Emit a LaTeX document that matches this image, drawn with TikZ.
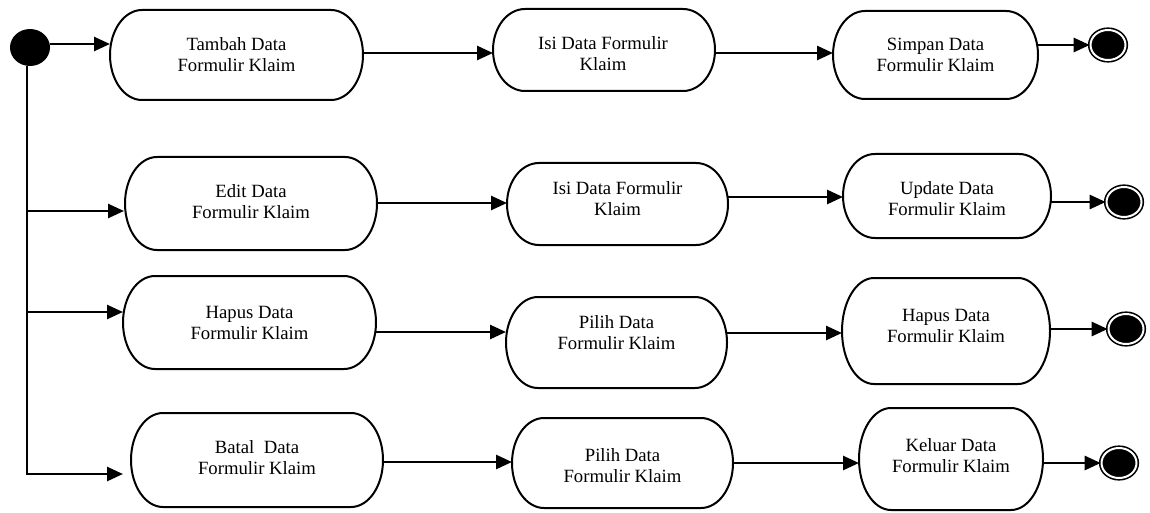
\documentclass[tikz,border=0pt]{standalone}
\usepackage{fontspec}
\setmainfont{Liberation Serif}
\usetikzlibrary{arrows.meta,shapes.geometric}
\newcommand\stadbox[2]{%
  \draw[boxline] ([xshift=32pt]#1.north west) -- ([xshift=-32pt]#1.north east)
    arc[start angle=90,end angle=-90,x radius=32pt,y radius=#2pt]
    -- ([xshift=32pt]#1.south west)
    arc[start angle=270,end angle=90,x radius=32pt,y radius=#2pt] -- cycle;}
\begin{document}
\begin{tikzpicture}[x=1pt,y=-1pt,
  act/.style={inner sep=0pt, outer sep=0pt},
  lbl/.style={align=center, inner sep=0pt, font=\fontsize{18.7pt}{21pt}\selectfont},
  boxline/.style={line width=2pt},
  arr/.style={line width=2.6pt, -{Triangle[length=16pt,width=14pt]}},
  fin/.style={ellipse, draw, fill=black, double=white, double distance=2pt, line width=1.6pt,
    minimum width=35pt, minimum height=30pt, inner sep=0pt},
  ini/.style={ellipse, fill=black, minimum width=40pt, minimum height=37pt, inner sep=0pt},
]
\useasboundingbox (0,0) rectangle (1150,513);

% initial node
\node[ini] (start) at (30,47.5) {};

% row 1
\node[act, minimum width=253pt, minimum height=90pt] (A1) at (236.5,55) {};
\node[act, minimum width=222pt, minimum height=82pt] (B1) at (604,50) {};
\node[act, minimum width=205pt, minimum height=88pt] (C1) at (935.5,55) {};
\node[fin] (E1) at (1108,45) {};
\stadbox{A1}{45}\stadbox{B1}{41}\stadbox{C1}{44}
\node[lbl] (tA1) at ([yshift=0pt]A1) {Tambah Data\\Formulir Klaim};
\node[lbl] (tB1) at ([yshift=-4pt,xshift=-1pt]B1) {Isi Data Formulir\\Klaim};
\node[lbl] (tC1) at (C1) {Simpan Data\\Formulir Klaim};

% row 2
\node[act, minimum width=252pt, minimum height=93pt] (A2) at (251,203.5) {};
\node[act, minimum width=221pt, minimum height=82pt] (B2) at (617.5,204) {};
\node[act, minimum width=208pt, minimum height=84pt] (C2) at (947,196) {};
\node[fin] (E2) at (1124,202) {};
\stadbox{A2}{46.5}\stadbox{B2}{41}\stadbox{C2}{42}
\node[lbl] (tA2) at ([yshift=1.5pt]A2) {Edit Data\\Formulir Klaim};
\node[lbl] (tB2) at ([yshift=5pt]B2) {Isi Data Formulir\\Klaim};
\node[lbl] (tC2) at ([yshift=-2.5pt]C2) {Update Data\\Formulir Klaim};

% row 3
\node[act, minimum width=253pt, minimum height=93pt] (A3) at (249.5,322.5) {};
\node[act, minimum width=221pt, minimum height=91pt] (B3) at (616.5,342.5) {};
\node[act, minimum width=208pt, minimum height=106pt] (C3) at (946,331) {};
\node[fin] (E3) at (1126,329) {};
\stadbox{A3}{46.5}\stadbox{B3}{45.5}\stadbox{C3}{53}
\node[lbl] (tA3) at (A3) {Hapus Data\\Formulir Klaim};
\node[lbl] (tB3) at ([yshift=10pt]B3) {Pilih Data\\Formulir Klaim};
\node[lbl] (tC3) at ([yshift=5pt]C3) {Hapus Data\\Formulir Klaim};

% row 4
\node[act, minimum width=252pt, minimum height=94pt] (A4) at (257,460) {};
\node[act, minimum width=221pt, minimum height=90pt] (B4) at (622.5,463) {};
\node[act, minimum width=184pt, minimum height=102pt] (C4) at (951,459) {};
\node[fin] (E4) at (1119,463) {};
\stadbox{A4}{47}\stadbox{B4}{45}\stadbox{C4}{51}
\node[lbl] (tA4) at ([yshift=2pt]A4) {Batal~ Data\\Formulir Klaim};
\node[lbl] (tB4) at ([yshift=-2.5pt]B4) {Pilih Data\\Formulir Klaim};
\node[lbl] (tC4) at ([yshift=3.5pt]C4) {Keluar Data\\Formulir Klaim};

% branching from initial node
\coordinate (j2) at (27,211);
\coordinate (j3) at (27,312);
\coordinate (j4) at (27,474);
\draw[arr] (start.east |- 0,44) -- (A1.west |- 0,44);
\draw[arr] ([xshift=-3pt]start.south) -- (j4) -- ([xshift=-8pt]A4.west |- j4);
\draw[arr] (j2) -- ([xshift=-1pt]A2.west |- j2);
\draw[arr] (j3) -- (A3.west |- j3);

% row 1 connectors
\draw[arr] (A1.east |- 0,53) -- (B1.west |- 0,53);
\draw[arr] (B1.east |- 0,53) -- (C1.west |- 0,53);
\draw[arr] (C1.east |- E1.west) -- (E1.west);

% row 2 connectors
\draw[arr] (A2.east |- 0,203) -- (B2.west |- 0,203);
\draw[arr] (B2.east |- 0,197) -- (C2.west |- 0,197);
\draw[arr] (C2.east |- E2.west) -- (E2.west);

% row 3 connectors
\draw[arr] (A3.east |- 0,332) -- (B3.west |- 0,332);
\draw[arr] (B3.east |- 0,333) -- (C3.west |- 0,333);
\draw[arr] (C3.east |- E3.west) -- (E3.west);

% row 4 connectors
\draw[arr] (A4.east |- 0,462) -- (B4.west |- 0,462);
\draw[arr] (B4.east |- 0,463) -- (C4.west |- 0,463);
\draw[arr] (C4.east |- E4.west) -- (E4.west);
\end{tikzpicture}
\end{document}
